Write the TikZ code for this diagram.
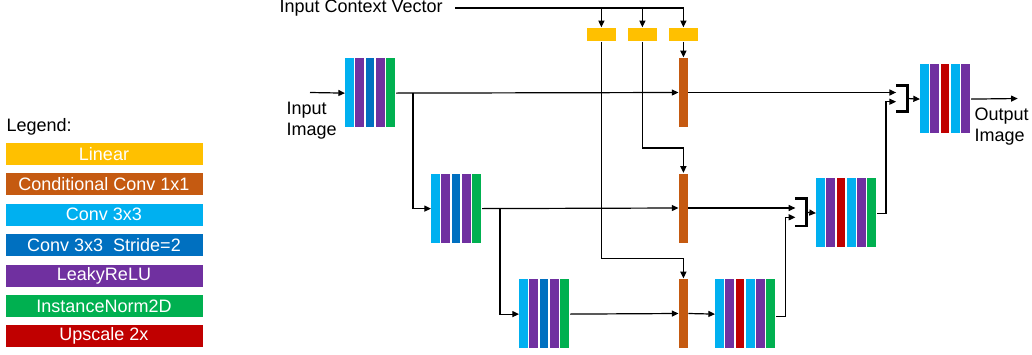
\documentclass[tikz,border=0pt]{standalone}
\usepackage{fontspec}
\setmainfont{Liberation Sans}
\usetikzlibrary{arrows.meta}

\definecolor{linyellow}{RGB}{255,192,0}
\definecolor{condorange}{RGB}{197,90,17}
\definecolor{convcyan}{RGB}{0,176,240}
\definecolor{strideblue}{RGB}{0,112,192}
\definecolor{reluviolet}{RGB}{112,48,160}
\definecolor{normgreen}{RGB}{0,176,80}
\definecolor{upred}{RGB}{192,0,0}

\tikzset{every picture/.style={line width=0.9pt}}
\tikzset{
  arr/.style={-{Triangle[length=5pt,width=4.5pt]}},
  legendbox/.style={fill=#1, text=white, minimum width=147.75pt, minimum height=16.5pt, inner sep=0pt},
  linbox/.style={fill=linyellow, minimum width=21.75pt, minimum height=9.75pt, inner sep=0pt},
  condbox/.style={fill=condorange, minimum width=6.5pt, minimum height=51.75pt, inner sep=0pt},
  stackbox/.style={anchor=north west, minimum height=51.75pt, inner sep=0pt},
  catbox/.style={minimum width=7.5pt, inner sep=0pt},
}

% name, left, top, width, colours
\newcommand{\layerstack}[5]{%
  \foreach \c [count=\i from 0] in {#5} {
    \fill[\c] ({#2+\i*10.25},#3) rectangle ++(8.8,69);
  }
  \node[stackbox, minimum width=#4] (#1) at (#2,#3) {};
}

\begin{document}
\begin{tikzpicture}[x=0.75pt,y=0.75pt,yscale=-1,xscale=1,font=\fontsize{13.5}{15.75}\selectfont]
\useasboundingbox (0,0) rectangle (1032,354);

% Legend
\node[anchor=west, inner sep=0pt] (legtitle) at (6,127) {Legend:};
\foreach \col/\txt [count=\k] in {linyellow/Linear, condorange/Conditional Conv 1x1, convcyan/Conv 3x3, strideblue/Conv 3x3\ \ Stride=2, reluviolet/LeakyReLU, normgreen/InstanceNorm2D, upred/Upscale 2x}
  \node[legendbox=\col] (leg\k) at (104,{123.5+\k*30.4}) {\txt};

% Encoder stacks
\layerstack{enc1}{345}{58}{37.35pt}{convcyan,reluviolet,strideblue,reluviolet,normgreen}
\layerstack{enc2}{431}{173.5}{37.35pt}{convcyan,reluviolet,strideblue,reluviolet,normgreen}
\layerstack{enc3}{519}{279}{37.35pt}{convcyan,reluviolet,strideblue,reluviolet,normgreen}
% Decoder stacks
\layerstack{dec3}{715}{279}{45.04pt}{convcyan,reluviolet,upred,convcyan,reluviolet,normgreen}
\layerstack{dec2}{816}{178}{45.04pt}{convcyan,reluviolet,upred,convcyan,reluviolet,normgreen}
\layerstack{dec1}{920}{64}{37.35pt}{convcyan,reluviolet,upred,convcyan,reluviolet}

% Linear and conditional conv
\node[linbox] (lin1) at (601.4,34.4) {};
\node[linbox] (lin2) at (642.4,34.4) {};
\node[linbox] (lin3) at (683.4,34.4) {};
\node[condbox] (cc1) at (683.4,92.5) {};
\node[condbox] (cc2) at (683.4,208) {};
\node[condbox] (cc3) at (683.4,313.5) {};

% Concatenation brackets
\node[catbox, minimum height=18.75pt] (cat1) at (901.7,98.5) {};
\node[catbox, minimum height=19.5pt] (cat2) at (801,212.3) {};
\draw[line width=2pt] (cat1.north west) -- (cat1.north east) -- (cat1.south east) -- (cat1.south west);
\draw[line width=2pt] (cat2.north west) -- (cat2.north east) -- (cat2.south east) -- (cat2.south west);

% Text Node
\node[anchor=west, inner sep=0pt] (ctx) at (279,8) {Input Context Vector};
% Text Node
\node[anchor=north west, align=left, inner sep=0pt] (inlabel) at (286,102) {Input\\Image};
% Text Node
\node[anchor=north west, align=left, inner sep=0pt] (outlabel) at (974,107) {Output\\Image};

\coordinate (inbeg) at (310,92.5);
\coordinate (outend) at (1017.7,98.5);
\coordinate (split1) at (413,92.5);
\coordinate (split2) at (500,208);
\coordinate (up1) at (886,101.7);
\coordinate (up2) at (785.7,217.3);

% context vector
\draw[arr] ([xshift=9pt]ctx.east) -| (lin3.north);
\draw[arr] (lin1 |- ctx.east) -- (lin1.north);
\draw[arr] (lin2 |- ctx.east) -- (lin2.north);
\draw[arr] (lin3.south) -- (cc1.north);
\draw[arr] (lin2.south) |- ([yshift=-18.75pt]cc2.north) -- (cc2.north);
\draw[arr] (lin1.south) |- ([yshift=-15pt]cc3.north) -- (cc3.north);

% encoder path
\draw[arr] (inbeg) -- (enc1.west);
\draw[arr] (enc1.east) -- (cc1.west);
\draw[arr] (split1) |- (enc2.west);
\draw[arr] (enc2.east) -- (cc2.west);
\draw[arr] (split2) |- (enc3.west);
\draw[arr] (enc3.east) -- (cc3.west);

% decoder path
\draw[arr] (cc3.east) -- (dec3.west);
\draw[arr] (cc2.east) -- (cat2.west |- cc2.east);
\draw[arr] ([yshift=2pt]dec3.east) -| (up2) -- (cat2.west |- up2);
\draw[arr] (cat2.east) -- (dec2.west);
\draw[arr] (cc1.east) -- (cat1.west |- cc1.east);
\draw[arr] (dec2.east) -| (up1) -- (cat1.west |- up1);
\draw[arr] (cat1.east) -- (dec1.west);
\draw[arr] (dec1.east) -- (outend);

\end{tikzpicture}
\end{document}
